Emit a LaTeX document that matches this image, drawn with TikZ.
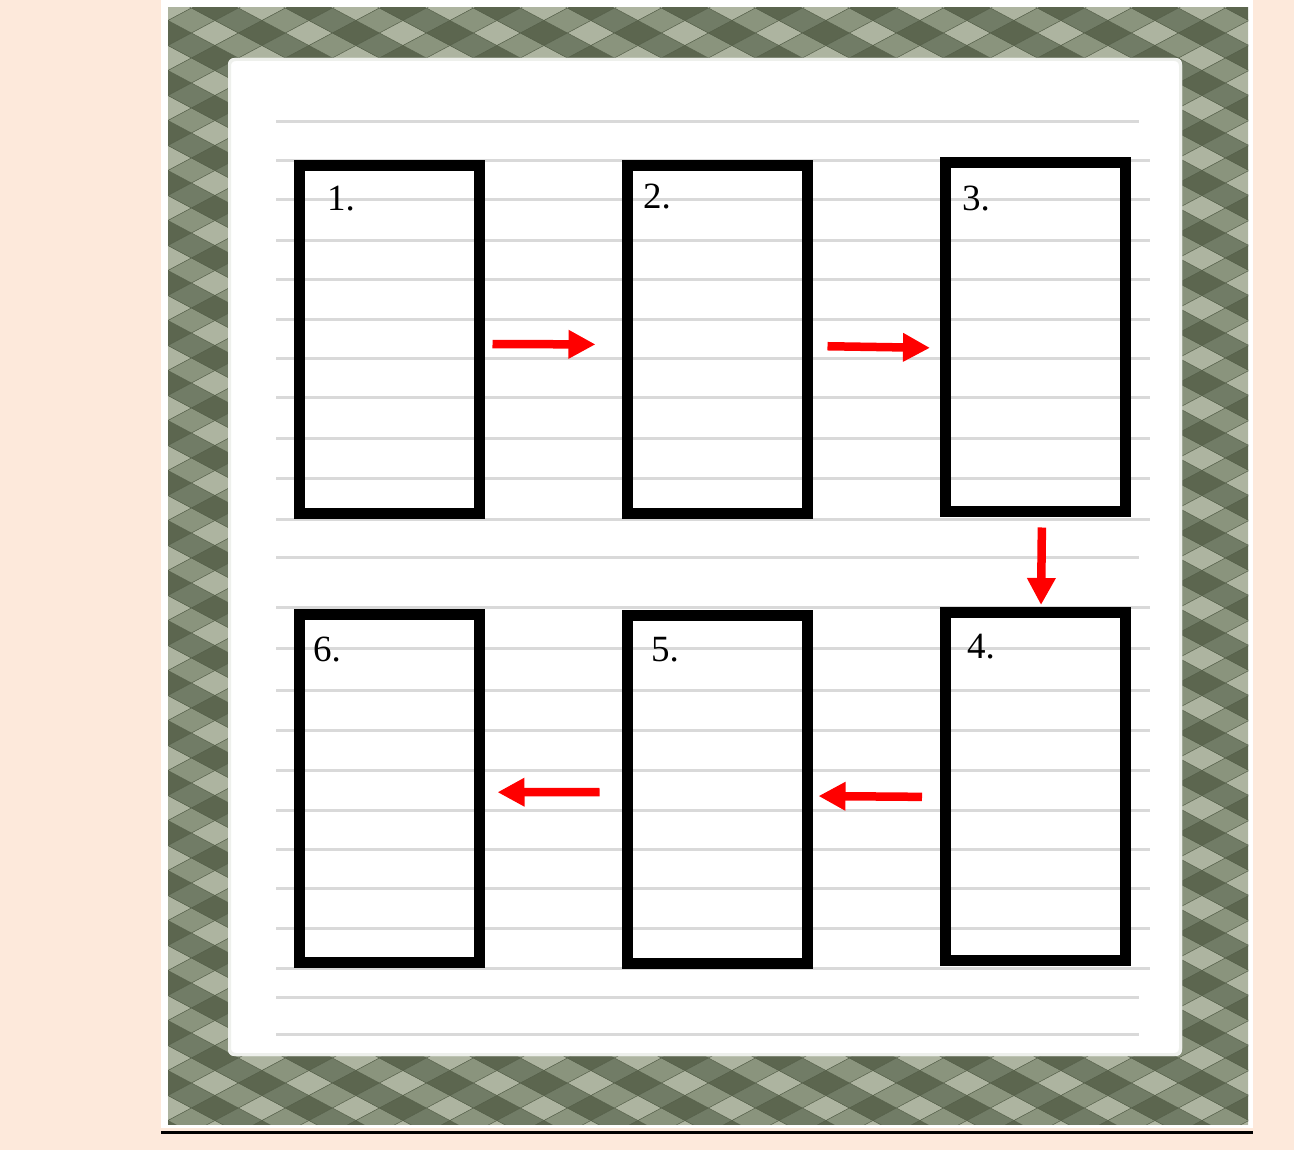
\documentclass[tikz,border=0pt]{standalone}
\usepackage{fontspec}
\setmainfont{Liberation Serif}
\usetikzlibrary{arrows.meta}
\definecolor{peach}{RGB}{253,233,219}
\definecolor{pcbg}{HTML}{7B8570}
\definecolor{pcaa}{HTML}{ADB4A0}
\definecolor{pcbb}{HTML}{5C664F}
\definecolor{pcab}{HTML}{8A947D}
\definecolor{pcba}{HTML}{717C66}
\definecolor{pcedge}{HTML}{56604A}
\definecolor{ruleline}{HTML}{D9D9D9}
\definecolor{inneredge}{HTML}{EEF0EC}
\tikzset{
  stepbox/.style={draw=black, line width=11pt, rectangle, inner sep=0pt,
    minimum width=180pt, minimum height=348pt},
  numlabel/.style={anchor=base west, inner sep=0pt, font=\fontsize{37}{42}\selectfont},
  redarrow/.style={draw=red, line width=8.5pt, -{Triangle[length=27pt,width=27pt]}},
  rule/.style={draw=ruleline, line width=3pt}
}
\begin{document}
\begin{tikzpicture}[x=1pt,y=-1pt]
\useasboundingbox (0,0) rectangle (1294,1150);
\fill[peach] (0,0) rectangle (1294,1150);
\fill[white] (161,0) rectangle (1253,1128);
\draw[line width=3pt] (161,1132) -- (1253,1132);
% patterned frame
\begin{scope}
  \clip (168,8) rectangle (1248,1124);
  \fill[pcbg] (168,8) rectangle (1248,1124);
  \foreach \i in {0,...,46}{
    \foreach \j in {0,...,90}{
      \ifodd\numexpr\i+\j\relax\else
        \ifodd\numexpr(\i-\j+200)/2\relax\def\mm{b}\else\def\mm{a}\fi
        \ifodd\numexpr(\i+\j)/2\relax\def\nn{b}\else\def\nn{a}\fi
        \filldraw[fill=pc\mm\nn, draw=pcedge, line width=0.4pt]
          ({168+23.5*\i},{8+12.5*\j}) +(-23.5,0) -- +(0,-12.5) -- +(23.5,0) -- +(0,12.5) -- cycle;
      \fi
    }
  }
\end{scope}
\fill[white, rounded corners=6pt] (228,58) rectangle (1182,1056);
\draw[inneredge, line width=3pt, rounded corners=6pt] (229.5,59.5) rectangle (1180.5,1054.5);
% ruled lines
\foreach \yy in {122,557,997,1034}{
  \draw[rule] (276,\yy) -- (1139,\yy);
}
\foreach \yy in {161,200,241,280,320,359,398,438,478,519,607,648,690,730,770,810,849,888,928,968}{
  \draw[rule] (276,\yy) -- (1150,\yy);
}
% boxes
\node[stepbox] (b1) at (389,339.5) {};
\node[stepbox] (b2) at (717,339.5) {};
\node[stepbox] (b3) at (1035.5,337) {};
\node[stepbox] (b4) at (1035.5,786.5) {};
\node[stepbox] (b5) at (717,789) {};
\node[stepbox] (b6) at (389,788.75) {};
% labels
\node[numlabel] (l1) at (327,211) {1.};
\node[numlabel] (l2) at (643,209) {2.};
\node[numlabel] (l3) at (962,211) {3.};
\node[numlabel] (l4) at (967,658) {4.};
\node[numlabel] (l5) at (651,661) {5.};
\node[numlabel] (l6) at (313,661) {6.};
% arrows
\draw[redarrow, shorten <=8pt, shorten >=26pt] ([yshift=-4.5pt]b1.east) -- ([yshift=-5pt]b2.west);
\draw[redarrow, shorten <=15pt, shorten >=10pt] ([yshift=-6.5pt]b2.east) -- ([yshift=-11pt]b3.west);
\draw[redarrow, shorten <=11pt, shorten >=2pt] ([xshift=6.5pt]b3.south) -- ([xshift=5.5pt]b4.north);
\draw[redarrow, shorten <=18pt, shorten >=6pt] ([yshift=-10.5pt]b4.west) -- ([yshift=-7pt]b5.east);
\draw[redarrow, shorten <=22pt, shorten >=13pt] ([yshift=-3pt]b5.west) -- ([yshift=-3.5pt]b6.east);
\end{tikzpicture}
\end{document}
